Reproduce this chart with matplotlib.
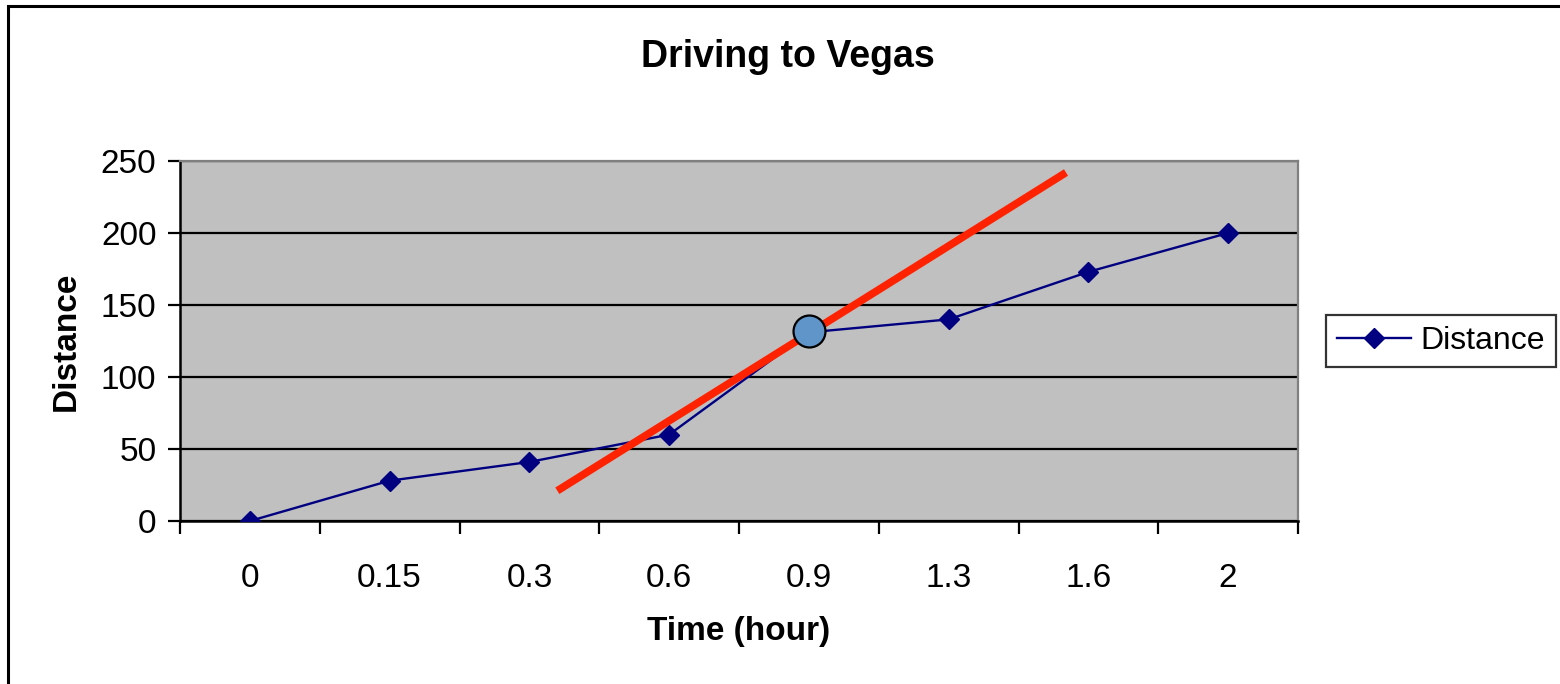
import matplotlib.pyplot as plt
from matplotlib.patches import Rectangle

plt.rcParams['font.family'] = ['Liberation Sans', 'DejaVu Sans']

# Dados
tempos = ['0', '0.15', '0.3', '0.6', '0.9', '1.3', '1.6', '2']
distancias = [0, 28, 41, 60, 131, 140, 173, 200]

# reta tangente (em posições de categoria)
tangente_x = [2.2, 5.84]
tangente_y = [21, 242]

# ponto destacado
ponto_x = [4.0]
ponto_y = [132]

fig = plt.figure(figsize=(15.6, 6.84), dpi=100)
fig.patches.append(Rectangle((8 / 1560, -0.1), 1.2, 1.1 - 6 / 684 - 0.0, transform=fig.transFigure,
                             fill=False, edgecolor='black', linewidth=2.2))

ax = fig.add_axes([180 / 1560, 1 - 521 / 684, 1118 / 1560, 360 / 684])
ax.set_facecolor('#C0C0C0')

pos = list(range(len(tempos)))
ax.plot(pos, distancias, color='#000080', linewidth=1.7, marker='D', markersize=10,
        label='Distance', zorder=3)
ax.plot(tangente_x, tangente_y, color='#FF2200', linewidth=5.5, solid_capstyle='butt', zorder=4)
ax.plot(ponto_x, ponto_y, 'o', markersize=23, markerfacecolor='#5F95C8',
        markeredgecolor='black', markeredgewidth=1.6, zorder=5)

ax.set_xlim(-0.5, len(tempos) - 0.5)
ax.set_ylim(0, 250)
ax.set_yticks([0, 50, 100, 150, 200, 250])
ax.yaxis.grid(True, color='black', linewidth=1.6)
ax.set_axisbelow(True)

ax.set_xticks(pos)
ax.set_xticklabels(tempos)
ax.set_xticks([p - 0.5 for p in pos] + [len(tempos) - 0.5], minor=True)
ax.tick_params(axis='x', which='major', length=0, pad=30, labelsize=24)
ax.tick_params(axis='x', which='minor', length=9, width=1.6, direction='out')
ax.tick_params(axis='y', length=9, width=1.6, direction='out', labelsize=24, pad=8)

for s in ['left', 'bottom']:
    ax.spines[s].set_color('black')
    ax.spines[s].set_linewidth(1.8)
for s in ['top', 'right']:
    ax.spines[s].set_color('#808080')
    ax.spines[s].set_linewidth(1.6)

ax.set_xlabel('Time (hour)', fontsize=24, fontweight='bold', labelpad=16)
ax.set_ylabel('Distance', fontsize=24, fontweight='bold', labelpad=14)
fig.text(788 / 1560, 1 - 57 / 684, 'Driving to Vegas', fontsize=27, fontweight='bold',
         ha='center', va='center')

leg = ax.legend(loc='center left', bbox_to_anchor=(1326 / 1560, 1 - 341 / 684),
                bbox_transform=fig.transFigure, fontsize=23, frameon=True, fancybox=False,
                handlelength=2.3, borderpad=0.35, handletextpad=0.3, borderaxespad=0)
leg.get_frame().set_edgecolor('black')
leg.get_frame().set_linewidth(1.6)

plt.savefig('out.png', dpi=100)
plt.close()
